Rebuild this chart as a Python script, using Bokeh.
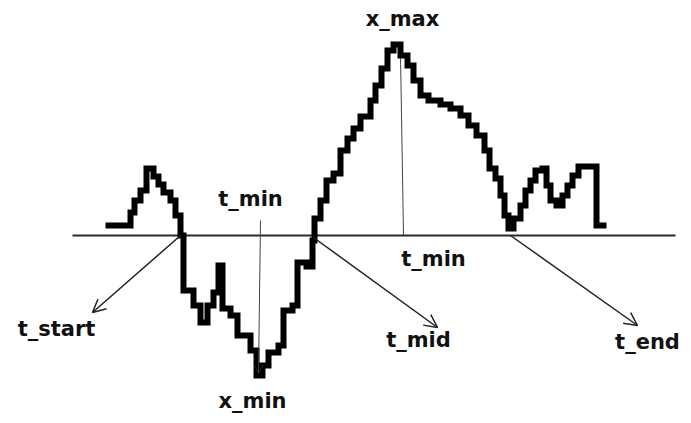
from bokeh.plotting import figure
from bokeh.models import Range1d, Arrow, OpenHead, ColumnDataSource
from bokeh.core.properties import value
from bokeh.embed import file_html
from bokeh.resources import INLINE

# Random-walk path: time (t) and level (x) relative to the zero line
t_vals = [105, 130, 134, 140, 146, 153, 158, 163, 170, 175, 180,
          183, 193, 200, 207, 213, 218, 222, 230, 237, 250, 256, 262, 268, 278, 283, 292, 297, 306, 312,
          314, 320, 326, 333, 340, 347, 353, 360, 370, 375, 381, 387, 393, 400, 407, 413, 420, 428,
          440, 450, 460, 468, 476, 484, 489, 495, 500, 504, 508, 513, 520, 525, 530, 535, 542,
          546, 550, 556, 562, 567, 572, 578, 596, 606]
x_vals = [10, 23, 35, 45, 67, 59, 51, 43, 35, 20, 0,
          -55, -70, -87, -70, -57, -30, -73, -80, -100, -115, -140, -130, -117, -110, -75, -70, -27, -31, -5,
          17, 35, 55, 62, 85, 97, 107, 119, 135, 150, 167, 185, 191, 180, 170, 155, 140, 135,
          131, 127, 120, 110, 100, 85, 67, 57, 40, 20, 7, 17, 30, 45, 55, 65, 67,
          50, 35, 30, 40, 50, 60, 69, 10, 10]

# Annotation labels
labels = ["x_max", "t_min", "t_min", "t_start", "t_mid", "t_end", "x_min"]
label_t = [402, 250, 433, 56, 418, 647, 252]
label_x = [217, 37, -23, -93, -104, -106, -165]

# Zero line extent
zero_t = [72, 675]
zero_x = [0, 0]

# Crossing times (arrow origins) and arrow tips
cross_t = [180, 313, 510]
cross_x = [0, -2, 0]
tip_t = [92, 437, 637]
tip_x = [-77, -92, -90]

# Extremum markers
tmax_line_t = [400, 403]
tmax_line_x = [180, 0]
tmin_line = (260, 15, 258, -138)

p = figure(width=683, height=415, output_backend="svg", toolbar_location=None,
           x_range=Range1d(0, 683), y_range=Range1d(-180, 235),
           min_border=0)
p.axis.visible = False
p.grid.visible = False
p.outline_line_color = None
p.background_fill_color = "white"
p.border_fill_color = "white"

# zero line
p.line(zero_t, zero_x, line_color="#2a2a2a", line_width=2)

# thin vertical line at maximum
p.line(tmax_line_t, tmax_line_x, line_color="#444444", line_width=1)

# thin line to minimum with arrow head
p.add_layout(Arrow(end=OpenHead(size=9, line_width=1, line_color="#222222"),
                   x_start=tmin_line[0], y_start=tmin_line[1],
                   x_end=tmin_line[2], y_end=tmin_line[3],
                   line_width=1, line_color="#444444"))

# path
p.step(t_vals, x_vals, mode="after", line_color="black", line_width=6, line_join="miter")

# arrows from crossings
for ts, xs, te, xe in zip(cross_t, cross_x, tip_t, tip_x):
    p.add_layout(Arrow(end=OpenHead(size=13, line_width=1.5, line_color="#222222"),
                       x_start=ts, y_start=xs, x_end=te, y_end=xe,
                       line_width=1.5, line_color="#222222"))

src = ColumnDataSource(dict(t=label_t, x=label_x, text=labels))
p.text(x="t", y="x", text="text", source=src,
       text_font=value("DejaVu Sans"), text_font_style="bold",
       text_font_size="21px", text_align="center", text_baseline="middle",
       text_color="#111111")

open("out.html", "w").write(file_html(p, INLINE))
